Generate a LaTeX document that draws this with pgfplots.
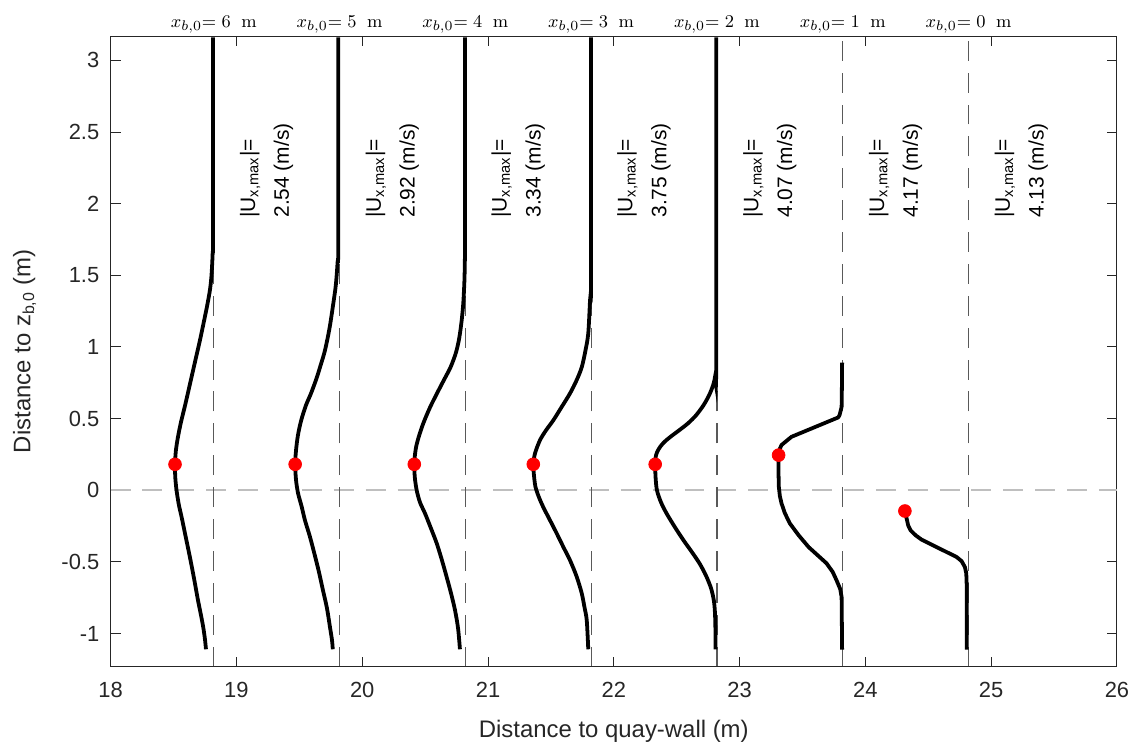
\documentclass[border=0pt]{standalone}
\usepackage[no-math]{fontspec}
\setmainfont{Liberation Sans}
\usepackage{pgfplots}
\pgfplotsset{compat=1.18}

\definecolor{axgray}{gray}{0.15}
\definecolor{vdash}{gray}{0.35}
\definecolor{hdash}{gray}{0.75}

\tikzset{
    vline/.style={vdash, line width=0.6pt, dash pattern=on 10pt off 6pt},
    ann/.style={rotate=90, anchor=west, align=left, inner sep=0pt,
                font=\fontsize{10.5}{17}\selectfont},
    top/.style={anchor=base, yshift=4.3pt, font=\fontsize{9.5}{11}\selectfont},
}
\pgfplotsset{
    prof/.style={black, line width=1.9pt, smooth, tension=0.5},
    profs/.style={black, line width=1.9pt, line join=round},
}

\begin{document}
\begin{tikzpicture}
\useasboundingbox (-1.951cm,-1.393cm) rectangle (18.05cm,11.755cm);
\begin{axis}[
    scale only axis,
    width=17.75cm, height=11.12cm,
    xmin=18, xmax=26,
    ymin=-1.23, ymax=3.17,
    xtick={18,19,20,21,22,23,24,25,26},
    xticklabels={18,19,20,21,22,23,24,25,26},
    ytick={-1,-0.5,0,0.5,1,1.5,2,2.5,3},
    yticklabels={-1,-0.5,0,0.5,1,1.5,2,2.5,3},
    tick align=inside,
    major tick length=5pt,
    axis line style={axgray, line width=0.5pt},
    tick style={axgray, line width=0.5pt},
    ticklabel style={font=\fontsize{11}{13}\selectfont, text=axgray},
    xticklabel style={anchor=base, yshift=-15.6pt},
    yticklabel style={anchor=east, inner sep=0pt, xshift=-5.5pt},
    xlabel={Distance to quay-wall (m)},
    ylabel={Distance to z\textsubscript{b,0} (m)},
    label style={font=\fontsize{12}{14}\selectfont, text=axgray},
    xlabel style={at={(rel axis cs:0.5,-0.1125)}, anchor=base},
    ylabel style={at={(rel axis cs:-0.0855,0.5)}, anchor=center},
    clip=false,
]
% reference lines
\addplot[hdash, line width=0.9pt, dash pattern=on 10pt off 6pt] coordinates {(18,0) (26,0)};
\addplot[vline] coordinates {(18.82,-1.23) (18.82,3.17)};
\addplot[vline] coordinates {(19.82,-1.23) (19.82,3.17)};
\addplot[vline] coordinates {(20.82,-1.23) (20.82,3.17)};
\addplot[vline] coordinates {(21.82,-1.23) (21.82,3.17)};
\addplot[vline] coordinates {(22.82,-1.23) (22.82,3.17)};
\addplot[vline] coordinates {(23.82,-1.23) (23.82,3.17)};
\addplot[vline] coordinates {(24.82,-1.23) (24.82,3.17)};

% x_b0 = 6 m
\addplot[prof] coordinates {
(18.814,3.16)(18.814,1.80)(18.811,1.65)(18.802,1.50)(18.790,1.40)(18.770,1.30)
(18.747,1.20)(18.711,1.05)(18.672,0.90)(18.633,0.75)(18.594,0.60)(18.558,0.47)
(18.533,0.36)(18.518,0.27)(18.512,0.18)(18.514,0.09)(18.524,0.0)(18.542,-0.10)
(18.565,-0.19)(18.598,-0.33)(18.631,-0.47)(18.664,-0.62)(18.695,-0.77)(18.718,-0.87)
(18.737,-0.96)(18.750,-1.04)(18.758,-1.11)};
% x_b0 = 5 m
\addplot[prof] coordinates {
(19.810,3.16)(19.810,1.744)(19.804,1.590)(19.790,1.430)(19.768,1.290)(19.740,1.130)
(19.704,0.976)(19.669,0.871)(19.637,0.781)(19.593,0.676)(19.553,0.593)(19.515,0.488)
(19.489,0.383)(19.474,0.279)(19.467,0.181)(19.474,0.070)(19.490,-0.021)(19.518,-0.112)
(19.545,-0.210)(19.581,-0.314)(19.613,-0.419)(19.653,-0.559)(19.688,-0.698)(19.720,-0.824)
(19.744,-0.957)(19.760,-1.047)(19.766,-1.110)};
% x_b0 = 4 m
\addplot[prof] coordinates {
(20.817,3.16)(20.817,1.80)(20.816,1.60)(20.812,1.45)(20.803,1.30)(20.790,1.18)
(20.771,1.06)(20.745,0.96)(20.703,0.86)(20.650,0.77)(20.597,0.68)(20.540,0.58)
(20.487,0.47)(20.452,0.38)(20.428,0.30)(20.416,0.22)(20.414,0.181)(20.418,0.091)
(20.433,0.0)(20.459,-0.084)(20.499,-0.161)(20.543,-0.258)(20.592,-0.370)(20.634,-0.489)
(20.672,-0.608)(20.706,-0.719)(20.738,-0.838)(20.762,-0.964)(20.777,-1.110)};
% x_b0 = 3 m
\addplot[prof] coordinates {
(21.819,3.16)(21.819,1.465)(21.811,1.325)(21.797,1.095)(21.775,0.976)(21.745,0.858)
(21.704,0.767)(21.652,0.676)(21.584,0.579)(21.519,0.488)(21.461,0.418)(21.413,0.349)
(21.374,0.258)(21.360,0.181)(21.366,0.098)(21.378,0.021)(21.405,-0.049)(21.440,-0.119)
(21.493,-0.210)(21.546,-0.301)(21.600,-0.398)(21.652,-0.489)(21.704,-0.601)(21.745,-0.719)
(21.767,-0.817)(21.785,-0.908)(21.797,-1.110)};
% x_b0 = 2 m
\addplot[prof] coordinates {
(22.814,3.16)(22.814,0.906)(22.807,0.802)(22.789,0.732)(22.757,0.662)(22.713,0.593)
(22.654,0.523)(22.590,0.467)(22.519,0.418)(22.455,0.376)(22.407,0.341)(22.371,0.306)
(22.343,0.264)(22.331,0.223)(22.329,0.181)(22.332,0.091)(22.343,0.0)(22.375,-0.084)
(22.419,-0.161)(22.486,-0.258)(22.554,-0.349)(22.622,-0.433)(22.681,-0.510)(22.732,-0.594)
(22.773,-0.684)(22.795,-0.768)(22.804,-0.852)(22.808,-0.977)(22.808,-1.110)};
% x_b0 = 1 m
\addplot[profs] coordinates {
(23.815,0.890)(23.813,0.700)(23.811,0.582)(23.795,0.525)(23.784,0.508)(23.413,0.373)
(23.360,0.335)(23.333,0.315)(23.315,0.280)(23.310,0.245)(23.310,0.100)(23.312,0.023)
(23.320,-0.040)(23.333,-0.091)(23.360,-0.160)(23.399,-0.231)(23.470,-0.315)(23.549,-0.397)
(23.691,-0.510)(23.740,-0.570)(23.771,-0.629)(23.800,-0.690)(23.811,-0.746)(23.815,-1.112)};
% x_b0 = 0 m
\addplot[profs] coordinates {
(24.314,-0.145)(24.328,-0.198)(24.340,-0.245)(24.359,-0.280)(24.400,-0.315)(24.447,-0.345)
(24.725,-0.466)(24.765,-0.495)(24.791,-0.536)(24.802,-0.580)(24.805,-0.652)(24.805,-1.112)};

% location of the maximum
\addplot[only marks, mark=*, mark size=3.2pt, mark options={fill=red, draw=red}] coordinates {
(18.512,0.181)(19.467,0.181)(20.414,0.181)(21.360,0.181)(22.329,0.181)(23.310,0.245)(24.314,-0.145)};

\node[ann] at (axis cs:19.24,1.90) {|U\textsubscript{x,max}|=\\2.54 (m/s)};
\node[ann] at (axis cs:20.24,1.90) {|U\textsubscript{x,max}|=\\2.92 (m/s)};
\node[ann] at (axis cs:21.24,1.90) {|U\textsubscript{x,max}|=\\3.34 (m/s)};
\node[ann] at (axis cs:22.24,1.90) {|U\textsubscript{x,max}|=\\3.75 (m/s)};
\node[ann] at (axis cs:23.24,1.90) {|U\textsubscript{x,max}|=\\4.07 (m/s)};
\node[ann] at (axis cs:24.24,1.90) {|U\textsubscript{x,max}|=\\4.17 (m/s)};
\node[ann] at (axis cs:25.24,1.90) {|U\textsubscript{x,max}|=\\4.13 (m/s)};

\node[top] at (axis cs:18.82,3.17) {$x_{b,0}{=}\ 6\ \ \mathrm{m}$};
\node[top] at (axis cs:19.82,3.17) {$x_{b,0}{=}\ 5\ \ \mathrm{m}$};
\node[top] at (axis cs:20.82,3.17) {$x_{b,0}{=}\ 4\ \ \mathrm{m}$};
\node[top] at (axis cs:21.82,3.17) {$x_{b,0}{=}\ 3\ \ \mathrm{m}$};
\node[top] at (axis cs:22.82,3.17) {$x_{b,0}{=}\ 2\ \ \mathrm{m}$};
\node[top] at (axis cs:23.82,3.17) {$x_{b,0}{=}\ 1\ \ \mathrm{m}$};
\node[top] at (axis cs:24.82,3.17) {$x_{b,0}{=}\ 0\ \ \mathrm{m}$};
\end{axis}
\end{tikzpicture}
\end{document}
